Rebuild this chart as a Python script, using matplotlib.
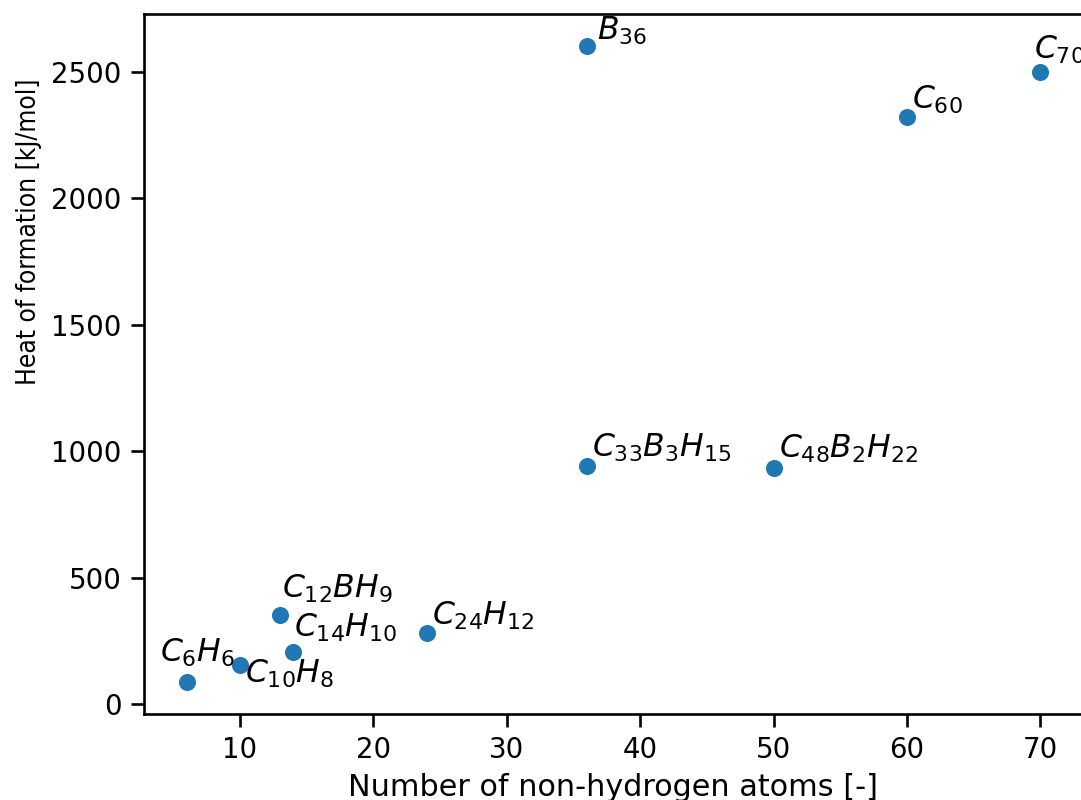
import matplotlib
matplotlib.use("Agg")
import matplotlib.pyplot as plt
from matplotlib import font_manager

labels = [r"$C_6H_6$", r"$C_{10}H_8$", r"$C_{12}BH_9$", r"$C_{14}H_{10}$", r"$C_{24}H_{12}$",
          r"$C_{33}B_3H_{15}$", r"$C_{48}B_2H_{22}$", r"$B_{36}$", r"$C_{60}$", r"$C_{70}$"]
atoms = [6, 10, 13, 14, 24, 36, 50, 36, 60, 70]
heat = [88, 155, 353, 207, 282, 943, 936, 2603, 2323, 2501]
# label offsets in points (dx, dy)
offsets = [(-10, 7.9), (1.9, -6.7), (0.6, 6.6), (0.3, 6.0), (1.9, 3.4),
           (1.9, 3.4), (1.9, 4.0), (4.0, 2.3), (1.9, 3.2), (-2.5, 5.1)]

# look for a condensed face for the (narrow) y label
cond = None
prefs = ["dejavusanscondensed.ttf", "condensed", "narrow"]
files = [f.fname for f in font_manager.fontManager.ttflist]
for p in prefs:
    for fn in files:
        low = fn.lower()
        if p in low and "bold" not in low and "italic" not in low and "oblique" not in low \
                and "light" not in low and "black" not in low and "thin" not in low \
                and "medium" not in low and "semi" not in low and "extra" not in low:
            cond = fn
            break
    if cond:
        break

dpi = 189
fig = plt.figure(figsize=(1081 / dpi, 800 / dpi), dpi=dpi)
ax = fig.add_axes([144 / 1081, 86 / 800, (1083 - 144) / 1081, (714 - 14) / 800])
ax.scatter(atoms, heat, color="#1f77b4", s=30, zorder=3)
for lab, x, y, (dx, dy) in zip(labels, atoms, heat, offsets):
    ax.annotate(lab, (x, y), xytext=(dx, dy), textcoords="offset points",
                fontsize=12, ha="left", va="baseline")
ax.set_xlabel("Number of non-hydrogen atoms [-]", fontsize=11.5, labelpad=3.5)
if cond:
    yl = ax.set_ylabel("Heat of formation [kJ/mol]",
                       fontproperties=font_manager.FontProperties(fname=cond, size=10))
else:
    yl = ax.set_ylabel("Heat of formation [kJ/mol]", fontsize=9.5)
ax.yaxis.set_label_coords(-0.109, 0.689)
ax.set_xticks([10, 20, 30, 40, 50, 60, 70])
ax.set_yticks([0, 500, 1000, 1500, 2000, 2500])
ax.tick_params(labelsize=10.5, length=5, width=1)
for sp in ax.spines.values():
    sp.set_linewidth(1)
fig.savefig("out.png", dpi=dpi)
